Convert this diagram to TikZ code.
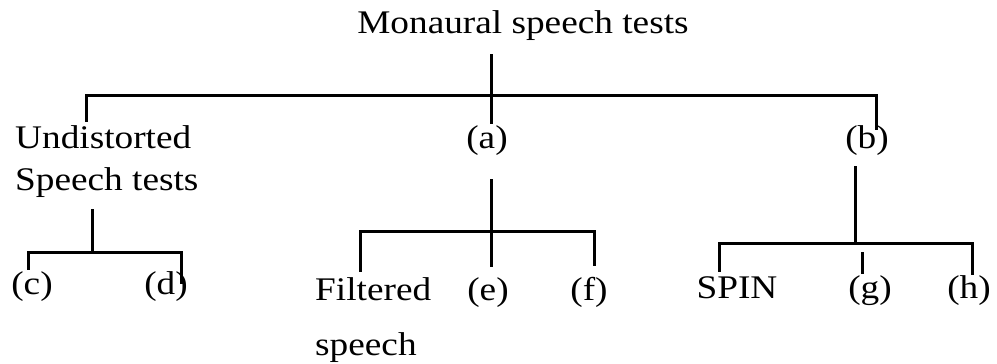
\documentclass[tikz,border=0pt]{standalone}
\usepackage{fontspec}
\setmainfont[FakeStretch=1.13]{Liberation Serif}
\usetikzlibrary{positioning}

\begin{document}
\begin{tikzpicture}[x=1pt, y=-1pt, font=\fontsize{33}{42}\selectfont,
  lbl/.style={inner sep=0pt, anchor=base},
  twoline/.style={inner sep=0pt, anchor=base west, align=left},
  branch/.style={line width=3pt, line cap=rect}]
\useasboundingbox (0,0) rectangle (997,364);
% labels (two-line nodes sit on the baseline of their last line)
\node[lbl] (root) at (523,33) {Monaural speech tests};
\node[twoline] (und) at (15,190) {Undistorted\\Speech tests};
\node[lbl] (a) at (487,148) {(a)};
\node[lbl] (b) at (867,148) {(b)};
\node[lbl] (c) at (32,294) {(c)};
\node[lbl] (d) at (166,294) {(d)};
\node[twoline] (filt) at (315,355) {Filtered\\[13pt]speech};
\node[lbl] (e) at (488,300) {(e)};
\node[lbl] (f) at (589,300) {(f)};
\node[lbl] (spin) at (737,298) {SPIN};
\node[lbl] (g) at (870,298) {(g)};
\node[lbl] (h) at (969,298) {(h)};
% first level
\coordinate (root-out) at (491,55);
\coordinate (top) at (491,95);
\coordinate (a-in) at (491,122);
\coordinate (und-in) at (86,120);
\coordinate (b-in) at (876,128);
\draw[branch] (root-out) -- (a-in);
\draw[branch] (und-in) |- (top) -| (b-in);
% undistorted speech
\coordinate (und-out) at (92,210);
\coordinate (und-bar) at (92,252);
\coordinate (c-in) at (28,268);
\coordinate (d-in) at (181,282);
\draw[branch] (und-out) -- (und-bar);
\draw[branch] (c-in) |- (und-bar) -| (d-in);
% (a)
\coordinate (a-out) at (491,180);
\coordinate (a-bar) at (491,231);
\coordinate (filt-in) at (360,270);
\coordinate (e-in) at (491,265);
\coordinate (f-in) at (594,264);
\draw[branch] (a-out) -- (e-in);
\draw[branch] (filt-in) |- (a-bar) -| (f-in);
% (b)
\coordinate (b-out) at (855,167);
\coordinate (b-bar) at (855,243);
\coordinate (spin-in) at (719,270);
\coordinate (h-in) at (972,273);
\coordinate (g-top) at (862,253);
\coordinate (g-in) at (862,272);
\draw[branch] (b-out) -- (b-bar);
\draw[branch] (spin-in) |- (b-bar) -| (h-in);
\draw[branch] (g-top) -- (g-in);
\end{tikzpicture}
\end{document}
